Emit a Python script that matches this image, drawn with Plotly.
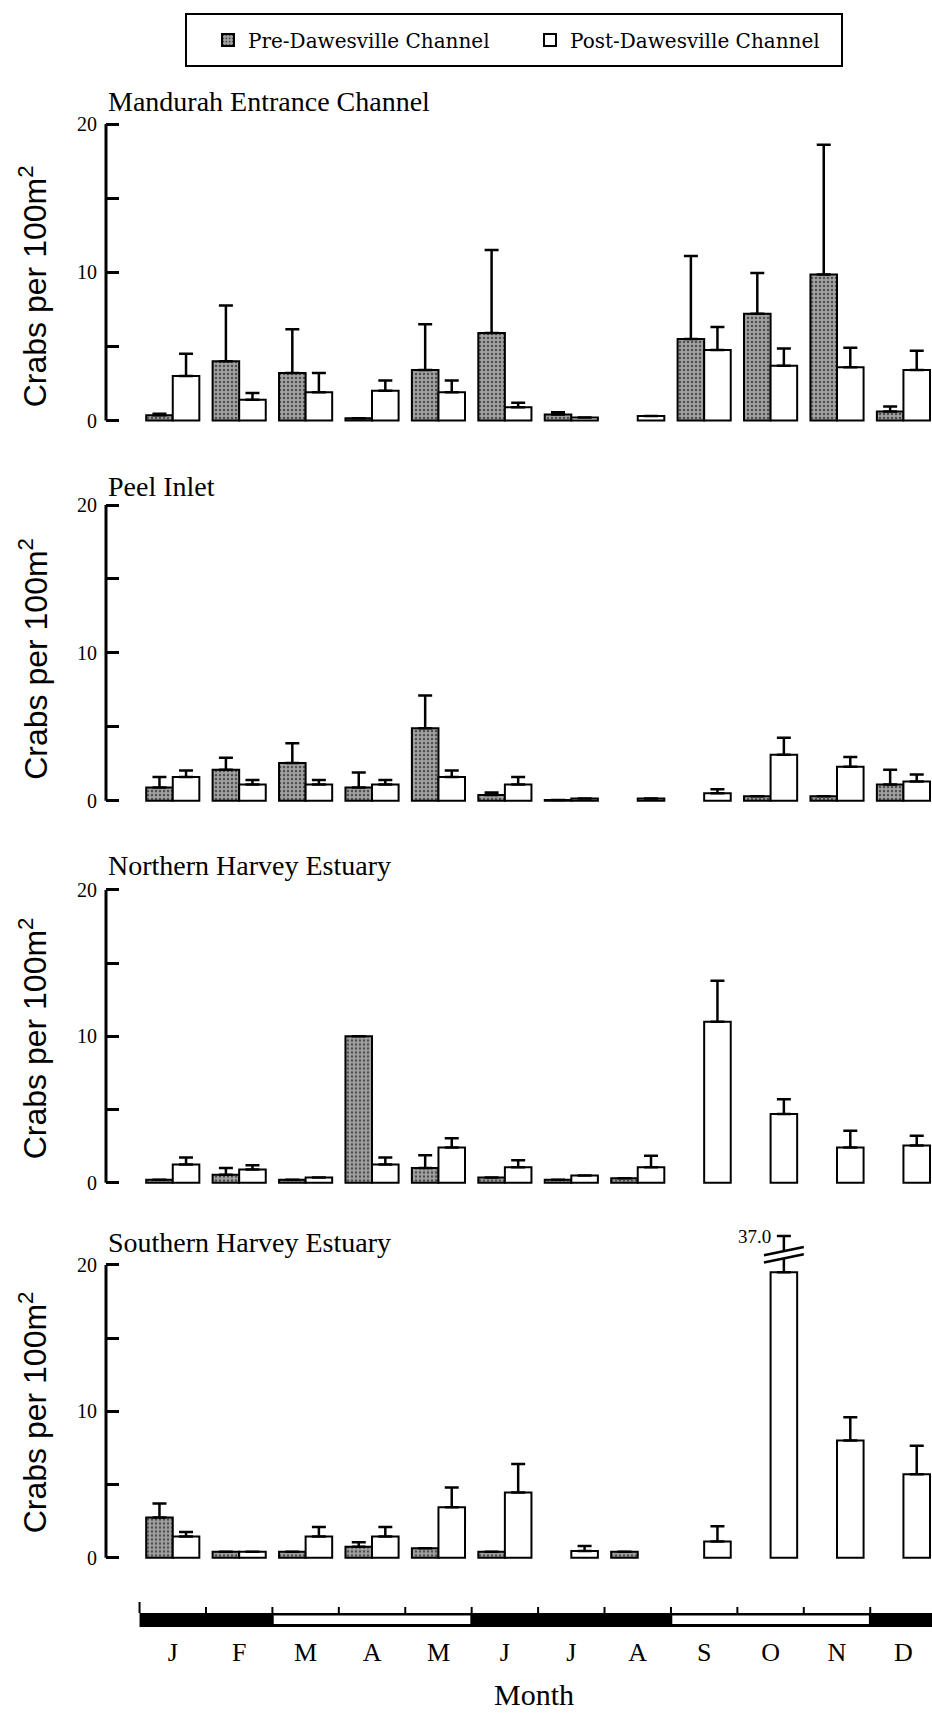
import plotly.graph_objects as go

# ---------------------------------------------------------------- data
MONTHS = ["J", "F", "M", "A", "M", "J", "J", "A", "S", "O", "N", "D"]
SEASONS = ["Summer", "Summer", "Autumn", "Autumn", "Autumn", "Winter",
           "Winter", "Winter", "Spring", "Spring", "Spring", "Summer"]
SITES = ["Mandurah Entrance Channel", "Peel Inlet",
         "Northern Harvey Estuary", "Southern Harvey Estuary"]

# mean density (crabs per 100 m2) and +1 SE, pre- and post-Dawesville Channel
mandurah_pre = [0.35, 4.0, 3.2, 0.15, 3.4, 5.9, 0.4, None, 5.5, 7.2, 9.85, 0.6]
mandurah_pre_se = [0.1, 3.75, 2.95, 0, 3.1, 5.6, 0.15, 0, 5.6, 2.75, 8.75, 0.35]
mandurah_post = [3.0, 1.4, 1.9, 2.0, 1.9, 0.9, 0.2, 0.3, 4.75, 3.7, 3.6, 3.4]
mandurah_post_se = [1.5, 0.45, 1.3, 0.7, 0.8, 0.3, 0, 0, 1.55, 1.15, 1.3, 1.3]

peel_pre = [0.9, 2.1, 2.55, 0.9, 4.9, 0.38, 0.05, None, None, 0.3, 0.3, 1.1]
peel_pre_se = [0.7, 0.8, 1.33, 1.0, 2.22, 0.18, 0, 0, 0, 0, 0, 1.0]
peel_post = [1.6, 1.1, 1.1, 1.1, 1.6, 1.1, 0.15, 0.15, 0.5, 3.1, 2.3, 1.3]
peel_post_se = [0.45, 0.3, 0.3, 0.3, 0.45, 0.5, 0, 0, 0.27, 1.15, 0.65, 0.47]

nharvey_pre = [0.2, 0.55, 0.2, 10.0, 1.0, 0.35, 0.2, 0.3, None, None, None, None]
nharvey_pre_se = [0, 0.45, 0, 0, 0.87, 0, 0, 0, 0, 0, 0, 0]
nharvey_post = [1.25, 0.9, 0.35, 1.25, 2.4, 1.05, 0.5, 1.05, 11.0, 4.7, 2.4, 2.55]
nharvey_post_se = [0.47, 0.3, 0, 0.47, 0.63, 0.48, 0, 0.8, 2.8, 1.0, 1.15, 0.65]

sharvey_pre = [2.75, 0.4, 0.4, 0.75, 0.65, 0.4, None, 0.4, None, None, None, None]
sharvey_pre_se = [0.95, 0, 0, 0.3, 0, 0, 0, 0, 0, 0, 0, 0]
sharvey_post = [1.45, 0.4, 1.45, 1.45, 3.45, 4.45, 0.45, None, 1.1, 19.5, 8.0, 5.7]
sharvey_post_se = [0.3, 0, 0.65, 0.65, 1.35, 1.95, 0.35, 0, 1.05, 17.5, 1.6, 1.95]

PRE = [mandurah_pre, peel_pre, nharvey_pre, sharvey_pre]
PRE_SE = [mandurah_pre_se, peel_pre_se, nharvey_pre_se, sharvey_pre_se]
POST = [mandurah_post, peel_post, nharvey_post, sharvey_post]
POST_SE = [mandurah_post_se, peel_post_se, nharvey_post_se, sharvey_post_se]

# ---------------------------------------------------------------- layout helpers
W, H = 932, 1716
LEFT = 106
PW = W - LEFT


def px_x(px):
    return (px - LEFT) / PW


def px_y(py):
    return 1 - py / H


X_RANGE = [-1.005, 11.43]
Y_RANGE = [-0.25, 22.7]
AXIS_TOP = 20
# pixel rows of the 20 and 0 ticks of each panel
PANEL_PX = [(124, 420.5), (505, 800.7), (890, 1182.7), (1265, 1557.7)]
TITLE_PX = [101, 486, 866, 1242]
YTITLE_SHIFT_PX = [14, 6, 2, 1]

# broken-axis display for values beyond the panel top
BREAK_LO = 20.45
BREAK_GAP = 0.5
ABOVE_SCALE = 0.062


def broken(v):
    if v <= BREAK_LO:
        return v
    return BREAK_LO + BREAK_GAP + (v - BREAK_LO) * ABOVE_SCALE


SERIF = "Liberation Serif, Times New Roman, serif"
WIDE_SERIF = "DejaVu Serif, serif"
SANS = "Liberation Sans, Arial, sans-serif"
PRE_MARKER = dict(color="#9a9a9a",
                  pattern=dict(shape=".", fgcolor="#4d4d4d", bgcolor="#a2a2a2",
                               size=4, solidity=0.3),
                  line=dict(color="black", width=2))
POST_MARKER = dict(color="white", line=dict(color="black", width=2))

fig = go.Figure()
shapes = []
annotations = []
x_pos = list(range(len(MONTHS)))

for i, site in enumerate(SITES):
    n = i + 1
    xa = "x" if n == 1 else f"x{n}"
    ya = "y" if n == 1 else f"y{n}"

    post_err = []
    for m, s in zip(POST[i], POST_SE[i]):
        if m is not None and m + s > BREAK_LO:
            post_err.append(broken(m + s) - m)
        else:
            post_err.append(s)

    fig.add_trace(go.Bar(
        x=x_pos, y=PRE[i], name="Pre-Dawesville Channel", legendgroup="pre",
        showlegend=(i == 0), marker=PRE_MARKER, xaxis=xa, yaxis=ya,
        error_y=dict(type="data", array=PRE_SE[i], arrayminus=[0] * 12,
                     symmetric=False, color="black", thickness=2.5, width=7)))
    fig.add_trace(go.Bar(
        x=x_pos, y=POST[i], name="Post-Dawesville Channel", legendgroup="post",
        showlegend=(i == 0), marker=POST_MARKER, xaxis=xa, yaxis=ya,
        error_y=dict(type="data", array=post_err, arrayminus=[0] * 12,
                     symmetric=False, color="black", thickness=2.5, width=7)))

    y20, y0 = PANEL_PX[i]
    k = (y0 - y20) / AXIS_TOP
    top_px = y20 - (Y_RANGE[1] - AXIS_TOP) * k
    bot_px = y0 - Y_RANGE[0] * k
    sfx = "" if n == 1 else str(n)
    fig.layout[f"xaxis{sfx}"] = dict(domain=[0, 1], range=X_RANGE, anchor=ya,
                                     visible=False)
    fig.layout[f"yaxis{sfx}"] = dict(
        domain=[px_y(bot_px), px_y(top_px)], range=Y_RANGE, anchor=xa,
        showgrid=False, zeroline=False, showline=False,
        ticks="inside", ticklen=13, tickwidth=3, tickcolor="black",
        tickvals=[0, 10, 20],
        minor=dict(ticks="inside", ticklen=13, tickwidth=3, tickcolor="black",
                   tickvals=[5, 15], showgrid=False),
        tickfont=dict(family=SERIF, size=20, color="black"),
        ticklabelstandoff=8)

    # vertical axis line from 0 to 20
    shapes.append(dict(type="line", xref=f"{xa} domain", yref=ya,
                       x0=0, x1=0, y0=0, y1=AXIS_TOP,
                       line=dict(color="black", width=3)))

    annotations.append(dict(text=site, xref="paper", yref="paper",
                            x=px_x(106), y=px_y(TITLE_PX[i]),
                            xanchor="left", yanchor="middle", showarrow=False,
                            font=dict(family=SERIF, size=28, color="black")))
    annotations.append(dict(text="Crabs per 100m<sup>2</sup>", xref="paper",
                            yref="paper", x=px_x(33),
                            y=px_y((y0 + y20) / 2 + YTITLE_SHIFT_PX[i]),
                            xanchor="center", yanchor="middle", textangle=-90,
                            showarrow=False,
                            font=dict(family=SANS, size=32, color="black")))

    # axis break on any error bar running past the panel top
    for j, (m, s) in enumerate(zip(POST[i], POST_SE[i])):
        if m is None or m + s <= BREAK_LO:
            continue
        xc = j + 0.2
        half = 0.3
        rise = 0.28
        lo, hi = BREAK_LO, BREAK_LO + BREAK_GAP
        shapes.append(dict(
            type="path", xref=xa, yref=ya, fillcolor="white",
            line=dict(width=0),
            path=(f"M{xc - half},{lo - rise} L{xc + half},{lo + rise} "
                  f"L{xc + half},{hi + rise} L{xc - half},{hi - rise} Z")))
        for yy in (lo, hi):
            shapes.append(dict(type="line", xref=xa, yref=ya,
                               x0=xc - half, x1=xc + half,
                               y0=yy - rise, y1=yy + rise,
                               line=dict(color="black", width=2.5)))
        annotations.append(dict(text=f"{m + s:.1f}", xref=xa, yref=ya,
                                x=xc - 0.17, y=broken(m + s), xanchor="right",
                                yanchor="middle", showarrow=False,
                                font=dict(family=SERIF, size=19, color="black")))

# ---------------------------------------------------------------- season band
BAND_TOP_PX, BAND_BOT_PX = 1602, 1627
fig.layout["xaxis5"] = dict(
    domain=[0, 1], range=X_RANGE, anchor="y5", showgrid=False, zeroline=False,
    showline=False, ticks="", tickvals=x_pos, ticktext=MONTHS,
    tickfont=dict(family=SERIF, size=26, color="black"), ticklabelstandoff=7)
fig.layout["yaxis5"] = dict(domain=[px_y(BAND_BOT_PX), px_y(BAND_TOP_PX)],
                            range=[0, 1], anchor="x5", visible=False)
annotations.append(dict(text="Month", xref="paper", yref="paper",
                        x=px_x(534), y=px_y(1694), xanchor="center",
                        yanchor="middle", showarrow=False,
                        font=dict(family=SERIF, size=30, color="black")))

band_h = 0.56
shapes.append(dict(type="rect", xref="x5", yref="y5", x0=-0.5,
                   x1=len(MONTHS) - 0.5, y0=0, y1=band_h,
                   fillcolor="black", line=dict(width=0)))
light = {"Autumn", "Spring"}
j = 0
while j < len(SEASONS):
    k2 = j
    while k2 + 1 < len(SEASONS) and SEASONS[k2 + 1] == SEASONS[j]:
        k2 += 1
    if SEASONS[j] in light:
        shapes.append(dict(type="rect", xref="x5", yref="y5",
                           x0=j - 0.5 + 0.02, x1=k2 + 0.5 - 0.02,
                           y0=0.12, y1=band_h - 0.1,
                           fillcolor="white", line=dict(width=0)))
    j = k2 + 1
for b in range(len(MONTHS)):
    shapes.append(dict(type="line", xref="x5", yref="y5",
                       x0=b - 0.5, x1=b - 0.5, y0=band_h,
                       y1=1.0 if b == 0 else 0.8,
                       line=dict(color="black", width=2)))

# legend frame
shapes.append(dict(type="rect", xref="paper", yref="paper",
                   x0=px_x(186), x1=px_x(842), y0=px_y(66), y1=px_y(14),
                   line=dict(color="black", width=2), fillcolor="rgba(0,0,0,0)"))

fig.update_layout(
    template="none",
    width=W, height=H,
    margin=dict(l=LEFT, r=0, t=0, b=0, autoexpand=False),
    paper_bgcolor="white", plot_bgcolor="white",
    barmode="group", bargap=0.2, bargroupgap=0,
    shapes=shapes, annotations=annotations,
    legend=dict(orientation="h", x=px_x(208), y=px_y(40), xanchor="left",
                yanchor="middle", bgcolor="rgba(0,0,0,0)", borderwidth=0,
                font=dict(family=WIDE_SERIF, size=20, color="black"),
                entrywidth=277, itemclick=False),
    font=dict(family=SERIF, color="black"),
)

fig.write_html("out.html")
